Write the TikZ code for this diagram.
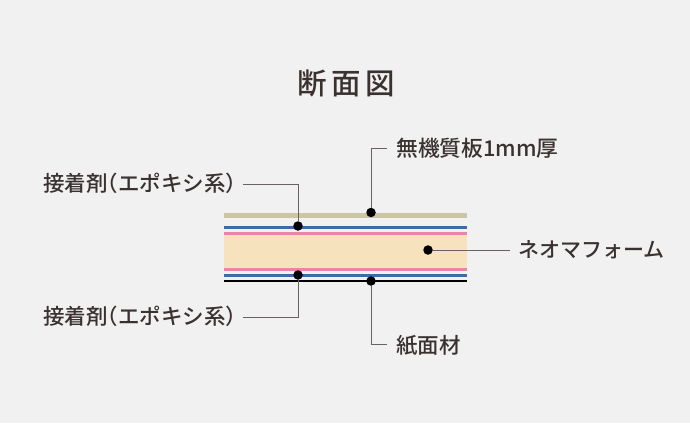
\documentclass[tikz,border=0pt]{standalone}
\usepackage{fontspec}
\setmainfont{Noto Sans CJK JP}[UprightFont=* Medium]
\definecolor{bgc}{HTML}{F1F1F1}
\definecolor{txt}{HTML}{3A3230}
\definecolor{ldr}{HTML}{6A6260}
\definecolor{tan}{HTML}{CDC6A5}
\definecolor{bluel}{HTML}{4268AC}
\definecolor{pinkl}{HTML}{EA84AC}
\definecolor{cream}{HTML}{F6E3BE}
\newcommand{\hw}[1]{{\addfontfeature{RawFeature=+halt}#1}}
\tikzset{
  lbl/.style={inner sep=0pt,text=txt,font=\fontsize{21.5}{22}\selectfont},
  dot/.style={circle,fill=black,inner sep=0pt,minimum size=9.5pt},
  leader/.style={draw=ldr,line width=1pt},
  layer/.style={inner sep=0pt,minimum width=243pt,outer sep=0pt}
}
\begin{document}
\begin{tikzpicture}[x=1pt,y=-1pt]
\useasboundingbox[fill=bgc] (0,0) rectangle (690,423);
\node[lbl,font=\fontsize{29.5}{30}\selectfont,anchor=center] (title) at (346.5,84) {\addfontfeature{LetterSpace=15}断面図};
\node[layer,fill=tan,minimum height=5pt] (board) at (345.5,215.5) {};
\node[layer,fill=bluel,minimum height=2.6pt] (blue1) at (345.5,227.3) {};
\node[layer,fill=pinkl,minimum height=3pt] (pink1) at (345.5,233.2) {};
\node[layer,fill=cream,minimum height=33.4pt] (foam) at (345.5,251.3) {};
\node[layer,fill=pinkl,minimum height=3pt] (pink2) at (345.5,269.5) {};
\node[layer,fill=bluel,minimum height=2.6pt] (blue2) at (345.5,275.2) {};
\node[layer,fill=black,minimum height=2.4pt] (paper) at (345.5,280.8) {};
\node[dot] (d1) at (298,226) {};
\node[dot] (d2) at (371,212.5) {};
\node[dot] (d3) at (428,250) {};
\node[dot] (d4) at (298,275) {};
\node[dot] (d5) at (371,281) {};
\node[lbl,anchor=west] (l1) at (43,183) {接着剤\hw{（}エポキシ系\hw{）}};
\node[lbl,anchor=west,font=\fontsize{21.8}{22}\selectfont] (l2) at (396,148) {無機質板1mm厚};
\node[lbl,anchor=west,font=\fontsize{21}{22}\selectfont] (l3) at (518,250) {ネオマフォーム};
\node[lbl,anchor=west] (l4) at (43,316) {接着剤\hw{（}エポキシ系\hw{）}};
\node[lbl,anchor=west] (l5) at (396,346) {紙面材};
\coordinate (c1s) at (243,184); \coordinate (c1) at (298,184);
\coordinate (c2s) at (387,148); \coordinate (c2) at (371,148);
\coordinate (c3) at (510,250);
\coordinate (c4s) at (243,317); \coordinate (c4) at (298,317);
\coordinate (c5s) at (387,344); \coordinate (c5) at (371,344);
\draw[leader] (c1s) -- (c1) -- (d1);
\draw[leader] (c2s) -- (c2) -- (d2);
\draw[leader] (d3) -- (c3);
\draw[leader] (c4s) -- (c4) -- (d4);
\draw[leader] (c5s) -- (c5) -- (d5);
\end{tikzpicture}
\end{document}
